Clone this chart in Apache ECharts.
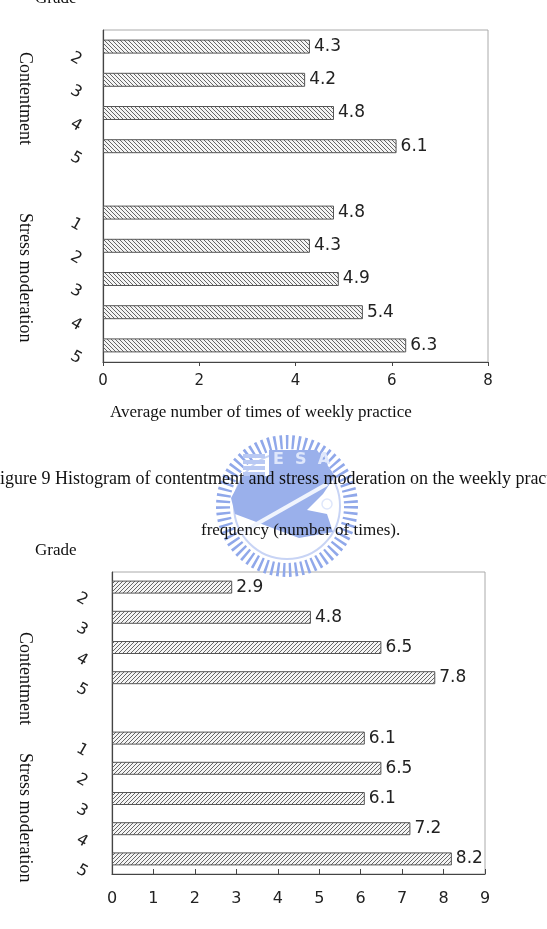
<!DOCTYPE html>
<html>
<head>
<meta charset="utf-8">
<script src="https://cdn.jsdelivr.net/npm/echarts@6/dist/echarts.min.js"></script>
<style>
  html, body { margin: 0; padding: 0; background: #fff; }
  #main { width: 547px; height: 929px; }
</style>
</head>
<body>
<div id="main"></div>
<script>
// 类别: 前4个是 Contentment，空一格，后5个是 Stress moderation
var gradeKeys = ['c2', 'c3', 'c4', 'c5', 'gap', 's1', 's2', 's3', 's4', 's5'];
var gradeLabels = ['2', '3', '4', '5', '', '1', '2', '3', '4', '5'];

// 上图: 每周平均练习次数
var practiceTimes = [4.3, 4.2, 4.8, 6.1, null, 4.8, 4.3, 4.9, 5.4, 6.3];
var ticks1 = [0, 2, 4, 6, 8];

// 下图
var practiceTimes2 = [2.9, 4.8, 6.5, 7.8, null, 6.1, 6.5, 6.1, 7.2, 8.2];
var ticks2 = [0, 1, 2, 3, 4, 5, 6, 7, 8, 9];

var myChart = echarts.init(document.getElementById('main'));

// 斜线填充
function makeHatch(dir, size, color) {
    var c = document.createElement('canvas');
    c.width = size;
    c.height = size;
    var ctx = c.getContext('2d');
    ctx.fillStyle = '#f4f4f4';
    ctx.fillRect(0, 0, size, size);
    ctx.strokeStyle = color;
    ctx.lineWidth = 1;
    ctx.beginPath();
    if (dir > 0) {
        ctx.moveTo(0, size); ctx.lineTo(size, 0);
        ctx.moveTo(-1, 1); ctx.lineTo(1, -1);
        ctx.moveTo(size - 1, size + 1); ctx.lineTo(size + 1, size - 1);
    } else {
        ctx.moveTo(0, 0); ctx.lineTo(size, size);
        ctx.moveTo(size - 1, -1); ctx.lineTo(size + 1, 1);
        ctx.moveTo(-1, size - 1); ctx.lineTo(1, size + 1);
    }
    ctx.stroke();
    return c;
}

var serif = '"Liberation Serif", "DejaVu Serif", serif';
var sans = '"DejaVu Sans", "Liberation Sans", sans-serif';

function labelOf(v) {
    var i = gradeKeys.indexOf(v);
    // 前面加一个换行，让数字往下偏一点
    return i >= 0 && gradeLabels[i] ? '\n' + gradeLabels[i] : '';
}

function yAxisFor(idx, margin) {
    return {
        gridIndex: idx,
        type: 'category',
        inverse: true,
        data: gradeKeys,
        axisLine: { lineStyle: { color: '#444', width: 1.2 } },
        axisTick: { inside: true, length: 5, lineStyle: { color: '#444' } },
        axisLabel: {
            formatter: labelOf,
            rotate: -30,
            color: '#222',
            fontFamily: sans,
            fontSize: 16,
            lineHeight: 34,
            margin: margin
        }
    };
}

// 竖排标题
function vText(y, text) {
    return { type: 'text', x: 34, y: y, rotation: -Math.PI / 2, style: { text: text, font: '18px ' + serif, fill: '#111' } };
}

var option = {
    animation: false,
    backgroundColor: '#fff',
    grid: [
        { left: 103, width: 385, top: 30, height: 332, show: true, borderColor: '#aaa', borderWidth: 1 },
        { left: 112, width: 373, top: 572, height: 302, show: true, borderColor: '#aaa', borderWidth: 1 }
    ],
    xAxis: [
        {
            gridIndex: 0, type: 'value', min: ticks1[0], max: ticks1[ticks1.length - 1], interval: 2,
            splitLine: { show: false },
            axisLine: { show: true, lineStyle: { color: '#444', width: 1.2 } },
            axisTick: { show: true, length: 4, lineStyle: { color: '#444' } },
            axisLabel: { color: '#222', fontFamily: sans, fontSize: 15, margin: 12 }
        },
        {
            gridIndex: 1, type: 'value', min: ticks2[0], max: ticks2[ticks2.length - 1], interval: 1,
            splitLine: { show: false },
            axisLine: { show: true, lineStyle: { color: '#444', width: 1.2 } },
            axisTick: { show: true, inside: true, length: 5, lineStyle: { color: '#444' } },
            axisLabel: { color: '#222', fontFamily: sans, fontSize: 16, margin: 17 }
        }
    ],
    yAxis: [yAxisFor(0, 14), yAxisFor(1, 17)],
    series: [
        {
            type: 'bar',
            xAxisIndex: 0, yAxisIndex: 0,
            data: practiceTimes,
            barWidth: 14,
            itemStyle: {
                color: { image: makeHatch(-1, 4, '#666'), repeat: 'repeat' },
                borderColor: '#555', borderWidth: 1
            },
            label: {
                show: true, position: 'right', distance: 4,
                color: '#222', fontFamily: sans, fontSize: 17
            }
        },
        {
            type: 'bar',
            xAxisIndex: 1, yAxisIndex: 1,
            data: practiceTimes2,
            barWidth: 13,
            itemStyle: {
                color: { image: makeHatch(1, 4, '#666'), repeat: 'repeat' },
                borderColor: '#555', borderWidth: 1
            },
            label: {
                show: true, position: 'right', distance: 4,
                color: '#222', fontFamily: sans, fontSize: 17
            }
        }
    ],
    graphic: [
        // 水印 (交大校徽，大概画一下)
        {
            type: 'group', x: 287, y: 506, z: 0, silent: true,
            children: [
                { type: 'circle', shape: { r: 64 }, style: { fill: 'none', stroke: '#90a8ea', lineWidth: 14, lineDash: [2.5, 3.5] } },
                { type: 'circle', shape: { r: 53 }, style: { fill: 'none', stroke: '#c8d4f5', lineWidth: 2 } },
                { type: 'polygon', shape: { points: [[-44, -30], [-18, -30], [-18, -56], [30, -56], [48, -30], [36, -12], [20, 4], [40, 8], [46, 26], [12, 32], [-20, 20], [-52, 8], [-56, -8]] },
                  style: { fill: '#9ab0eb' } },
                { type: 'rect', shape: { x: -44, y: -52, width: 22, height: 4 }, style: { fill: '#b9c9f3' } },
                { type: 'rect', shape: { x: -44, y: -46, width: 22, height: 4 }, style: { fill: '#b9c9f3' } },
                { type: 'rect', shape: { x: -44, y: -40, width: 22, height: 4 }, style: { fill: '#b9c9f3' } },
                { type: 'rect', shape: { x: -44, y: -34, width: 22, height: 4 }, style: { fill: '#b9c9f3' } },
                { type: 'text', style: { x: -14, y: -54, text: 'E  S  A', font: 'bold 16px ' + sans, fill: '#dfe7fb' } },
                { type: 'line', shape: { x1: -48, y1: 28, x2: 40, y2: -22 }, style: { stroke: '#f0f4fd', lineWidth: 4 } },
                { type: 'circle', shape: { cx: 40, cy: -2, r: 5 }, style: { fill: 'none', stroke: '#dfe7fb', lineWidth: 1.5 } }
            ]
        },
        { type: 'text', left: 35, top: -10, style: { text: 'Grade', font: '17px ' + serif, fill: '#111' } },
        vText(52, 'Contentment'),
        vText(213, 'Stress moderation'),
        { type: 'text', x: 110, y: 404, style: { text: 'Average number of times of weekly practice', font: '17px ' + serif, fill: '#111' } },
        { type: 'text', x: -10, y: 470, z: 10, style: { text: 'Figure 9 Histogram of contentment and stress moderation on the weekly practice', font: '18px ' + serif, fill: '#111' } },
        { type: 'text', x: 201, y: 522, z: 10, style: { text: 'frequency (number of times).', font: '17px ' + serif, fill: '#111' } },
        { type: 'text', left: 35, top: 542, style: { text: 'Grade', font: '17px ' + serif, fill: '#111' } },
        vText(632, 'Contentment'),
        vText(753, 'Stress moderation')
    ]
};

myChart.setOption(option);
</script>
</body>
</html>
